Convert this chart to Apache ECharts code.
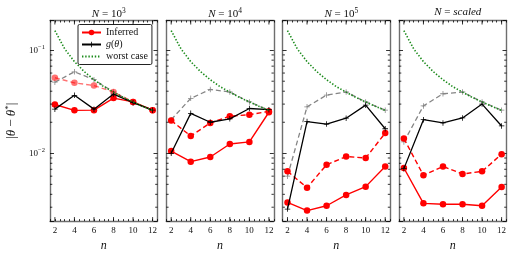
<!DOCTYPE html>
<html>
<head>
<meta charset="utf-8">
<script src="https://cdn.jsdelivr.net/npm/echarts@6/dist/echarts.min.js"></script>
<style>html,body{margin:0;padding:0;background:#fff;}#c{width:512px;height:257px;}</style>
</head>
<body>
<div id="c"></div>
<script>
// ---- data ----
const nValues = [2, 4, 6, 8, 10, 12];
const worstN = [2, 3, 4, 5, 6, 7, 8, 9, 10, 11, 12];
const worstCase = [0.155, 0.103, 0.0775, 0.062, 0.0517, 0.0443, 0.0392, 0.0348, 0.0315, 0.0285, 0.0261];

const panelExp = ['3', '4', '5', 'scaled'];

const p1RedSolid  = [0.0297, 0.0261, 0.0262, 0.0343, 0.0315, 0.0262];
const p1RedDashed = [0.054, 0.0482, 0.0454, 0.0393, 0.0315, 0.0262];
const p1Black     = [0.0268, 0.0365, 0.0268, 0.0375, 0.031, 0.0262];
const p1Gray      = [0.0489, 0.0617, 0.0518, 0.0393, 0.031, 0.0262];

const p2RedSolid  = [0.0105, 0.0083, 0.0092, 0.0123, 0.0129, 0.025];
const p2RedDashed = [0.0208, 0.0147, 0.0197, 0.0229, 0.0237, 0.0255];
const p2Black     = [0.0100, 0.0244, 0.0200, 0.0216, 0.0272, 0.0265];
const p2Gray      = [0.0212, 0.0341, 0.0416, 0.0393, 0.0315, 0.0262];

const p3RedSolid  = [0.00334, 0.00278, 0.0031, 0.00395, 0.00475, 0.00746];
const p3RedDashed = [0.00668, 0.00464, 0.00774, 0.0093, 0.009, 0.0157];
const p3Black     = [0.00288, 0.0203, 0.0192, 0.0219, 0.0293, 0.0173];
const p3Gray      = [0.006, 0.0282, 0.0367, 0.0393, 0.0315, 0.0262];

const p4RedSolid  = [0.0072, 0.00327, 0.0032, 0.0032, 0.0031, 0.00471];
const p4RedDashed = [0.0139, 0.00612, 0.00746, 0.0063, 0.00668, 0.0098];
const p4Black     = [0.0071, 0.0212, 0.0197, 0.0220, 0.0300, 0.0184];
const p4Gray      = [0.0129, 0.0288, 0.0378, 0.0393, 0.0315, 0.0262];

const redSolid = [p1RedSolid, p2RedSolid, p3RedSolid, p4RedSolid];
const redDashed = [p1RedDashed, p2RedDashed, p3RedDashed, p4RedDashed];
const blackSeries = [p1Black, p2Black, p3Black, p4Black];
const graySeries = [p1Gray, p2Gray, p3Gray, p4Gray];

const yMinorTicks = [0.003, 0.004, 0.005, 0.006, 0.007, 0.008, 0.009, 0.02, 0.03, 0.04, 0.05, 0.06, 0.07, 0.08, 0.09];
const xMajorTicks = [2, 4, 6, 8, 10, 12];

// ---- layout ----
const X_MIN = 1.5, X_MAX = 12.5, Y_MIN = 0.0022, Y_MAX = 0.194;
const gridLefts = [50, 166.3, 282.6, 399];
const GRID_W = 107.5, GRID_TOP = 20.5, GRID_H = 202.2;
const FONT = 'Liberation Serif';
const FRAME = '#6e6e6e';

const plusPath = 'path://M-0.7,-5 L0.7,-5 L0.7,-0.7 L5,-0.7 L5,0.7 L0.7,0.7 L0.7,5 L-0.7,5 L-0.7,0.7 L-5,0.7 L-5,-0.7 L-0.7,-0.7 Z';
const rich = {
  i: {fontFamily: FONT, fontStyle: 'italic', fontWeight: 'normal', fontSize: 11, color: '#111'},
  n: {fontFamily: FONT, fontWeight: 'normal', fontSize: 11, color: '#111'},
  sup: {fontFamily: FONT, fontWeight: 'normal', fontSize: 7.5, color: '#111', verticalAlign: 'top', padding: [0, 0, 6, 0]}
};
const richName = {
  i: {fontFamily: FONT, fontStyle: 'italic', fontWeight: 'normal', fontSize: 13, color: '#111'},
  n: {fontFamily: FONT, fontWeight: 'normal', fontSize: 13, color: '#111'},
  sup: {fontFamily: FONT, fontWeight: 'normal', fontSize: 9, color: '#111', verticalAlign: 'top', padding: [0, 0, 7, 0]}
};

const grids = [], xAxes = [], yAxes = [], series = [], titles = [];
function pairs(ys) { return nValues.map((n, k) => [n, ys[k]]); }

for (let i = 0; i < 4; i++) {
  grids.push({left: gridLefts[i], top: GRID_TOP, width: GRID_W, height: GRID_H, containLabel: false});
  const tcx = gridLefts[i] + GRID_W / 2;
  const t = panelExp[i] === 'scaled' ? '{i|N}{n| = }{i|scaled}' : '{i|N}{n| = 10}{sup|' + panelExp[i] + '}';
  titles.push({text: t, left: tcx, top: 2, textAlign: 'center', textStyle: {rich: rich, fontSize: 11, fontWeight: 'normal'}});
  const baseX = {
    type: 'value', gridIndex: i, min: X_MIN, max: X_MAX, interval: 0.5,
    axisLine: {show: true, lineStyle: {color: FRAME, width: 1.4}},
    axisTick: {show: true, inside: true, length: 2, lineStyle: {color: '#000', width: 0.8}},
    splitLine: {show: false}
  };
  xAxes.push(Object.assign({}, baseX, {
    position: 'bottom',
    name: 'n', nameLocation: 'middle', nameGap: 18,
    nameTextStyle: {fontFamily: FONT, fontStyle: 'italic', fontSize: 12, color: '#111'},
    axisLabel: {show: true, margin: 5, fontFamily: FONT, fontSize: 9, color: '#111',
      formatter: v => (Math.abs(v - Math.round(v)) < 1e-9 && Math.round(v) % 2 === 0) ? String(Math.round(v)) : ''}
  }));
  xAxes.push(Object.assign({}, baseX, {position: 'top', axisLabel: {show: false}}));
  const baseY = {
    type: 'log', logBase: 10, gridIndex: i, min: Y_MIN, max: Y_MAX,
    axisLine: {show: true, lineStyle: {color: FRAME, width: 1.4}},
    axisTick: {show: true, inside: true, length: 4, lineStyle: {color: '#000', width: 0.8}},
    splitLine: {show: false}
  };
  yAxes.push(Object.assign({}, baseY, {
    position: 'left',
    axisLabel: {show: i === 0, margin: 5, fontFamily: FONT, fontSize: 9, color: '#111', rich: {
        b: {fontFamily: FONT, fontSize: 9, color: '#111'},
        sup: {fontFamily: FONT, fontSize: 6.5, color: '#111', verticalAlign: 'top', padding: [0, 0, 5, 0]}
      },
      formatter: v => {
        const e = Math.log10(v); const r = Math.round(e);
        if (Math.abs(e - r) > 1e-6) return '';
        return '{b|10}{sup|' + (r < 0 ? '\u2212' : '') + Math.abs(r) + '}';
      }},
    name: i === 0 ? '{n||}{i|\u03b8}{n| \u2212 }{i|\u03b8}{sup|*}{n||}' : '',
    nameLocation: 'middle', nameGap: 30,
    nameTextStyle: {fontFamily: FONT, fontSize: 13, color: '#111', rich: richName}
  }));
  yAxes.push(Object.assign({}, baseY, {position: 'right', axisLabel: {show: false}}));

  const xi = 2 * i, yi = 2 * i;
  series.push({
    name: 'gray' + i, type: 'line', xAxisIndex: xi, yAxisIndex: yi, data: pairs(graySeries[i]),
    symbol: plusPath, symbolSize: 5.5, showSymbol: true,
    lineStyle: {color: '#858585', width: 1.3, type: [5, 3]},
    itemStyle: {color: '#858585'}, z: 2
  });
  const rdColor = i === 0 ? 'rgba(255,0,0,0.55)' : '#ff0000';
  series.push({
    name: 'reddash' + i, type: 'line', xAxisIndex: xi, yAxisIndex: yi, data: pairs(redDashed[i]),
    symbol: 'circle', symbolSize: 6.5,
    lineStyle: {color: rdColor, width: 1.4, type: [5, 3]},
    itemStyle: {color: rdColor}, z: 3
  });
  series.push({
    name: 'Inferred', type: 'line', xAxisIndex: xi, yAxisIndex: yi, data: pairs(redSolid[i]),
    symbol: 'circle', symbolSize: 6.5,
    lineStyle: {color: '#ff0000', width: 1.4},
    itemStyle: {color: '#ff0000'}, z: 4
  });
  series.push({
    name: 'g(\u03b8)', type: 'line', xAxisIndex: xi, yAxisIndex: yi, data: pairs(blackSeries[i]),
    symbol: plusPath, symbolSize: 5.5,
    lineStyle: {color: '#000', width: 1.3},
    itemStyle: {color: '#000'}, z: 5
  });
  series.push({
    name: 'worst case', type: 'line', xAxisIndex: xi, yAxisIndex: yi,
    data: worstN.map((n, k) => [n, worstCase[k]]),
    symbol: 'none', smooth: false,
    lineStyle: {color: '#1a8a1a', width: 1.6, type: [1.4, 1.8]},
    itemStyle: {color: '#1a8a1a'}, z: 6
  });
  const tickData = yMinorTicks.map(v => [X_MIN, v]).concat(xMajorTicks.map(n => [n, Y_MIN]));
  series.push({
    name: 'ticks' + i, type: 'custom', xAxisIndex: xi, yAxisIndex: yi, data: tickData,
    silent: true, clip: false, z: 10,
    renderItem: function (params, api) {
      const cs = params.coordSys;
      const st = {stroke: '#000', lineWidth: 0.8};
      if (params.dataIndex < yMinorTicks.length) {
        const y = api.coord([X_MIN, api.value(1)])[1];
        return {type: 'group', children: [
          {type: 'line', shape: {x1: cs.x, y1: y, x2: cs.x + 2.3, y2: y}, style: st},
          {type: 'line', shape: {x1: cs.x + cs.width - 2.3, y1: y, x2: cs.x + cs.width, y2: y}, style: st}
        ]};
      }
      const x = api.coord([api.value(0), Y_MAX])[0];
      return {type: 'group', children: [
        {type: 'line', shape: {x1: x, y1: cs.y + cs.height, x2: x, y2: cs.y + cs.height - 4}, style: st},
        {type: 'line', shape: {x1: x, y1: cs.y, x2: x, y2: cs.y + 4}, style: st}
      ]};
    }
  });
}

const chart = echarts.init(document.getElementById('c'), null, {renderer: 'canvas'});
chart.setOption({
  animation: false,
  backgroundColor: '#fff',
  title: titles,
  grid: grids,
  xAxis: xAxes,
  yAxis: yAxes,
  legend: {
    data: ['Inferred', 'g(\u03b8)', {name: 'worst case', itemStyle: {color: 'rgba(0,0,0,0)', borderWidth: 0, opacity: 0}}],
    orient: 'vertical', left: 78, top: 24.5,
    itemWidth: 19, itemHeight: 7, itemGap: 2,
    padding: [3, 4, 3, 3],
    borderColor: '#222', borderWidth: 1, borderRadius: 1.5,
    backgroundColor: '#fff',
    selectedMode: false,
    textStyle: {fontFamily: FONT, fontSize: 10, color: '#111',
      rich: {i: {fontFamily: FONT, fontStyle: 'italic', fontSize: 10, color: '#111'}, r: {fontFamily: FONT, fontSize: 10, color: '#111'}}},
    formatter: name => name === 'g(\u03b8)' ? '{i|g}{r|(}{i|\u03b8}{r|)}' : name
  },
  series: series
});
</script>
</body>
</html>
